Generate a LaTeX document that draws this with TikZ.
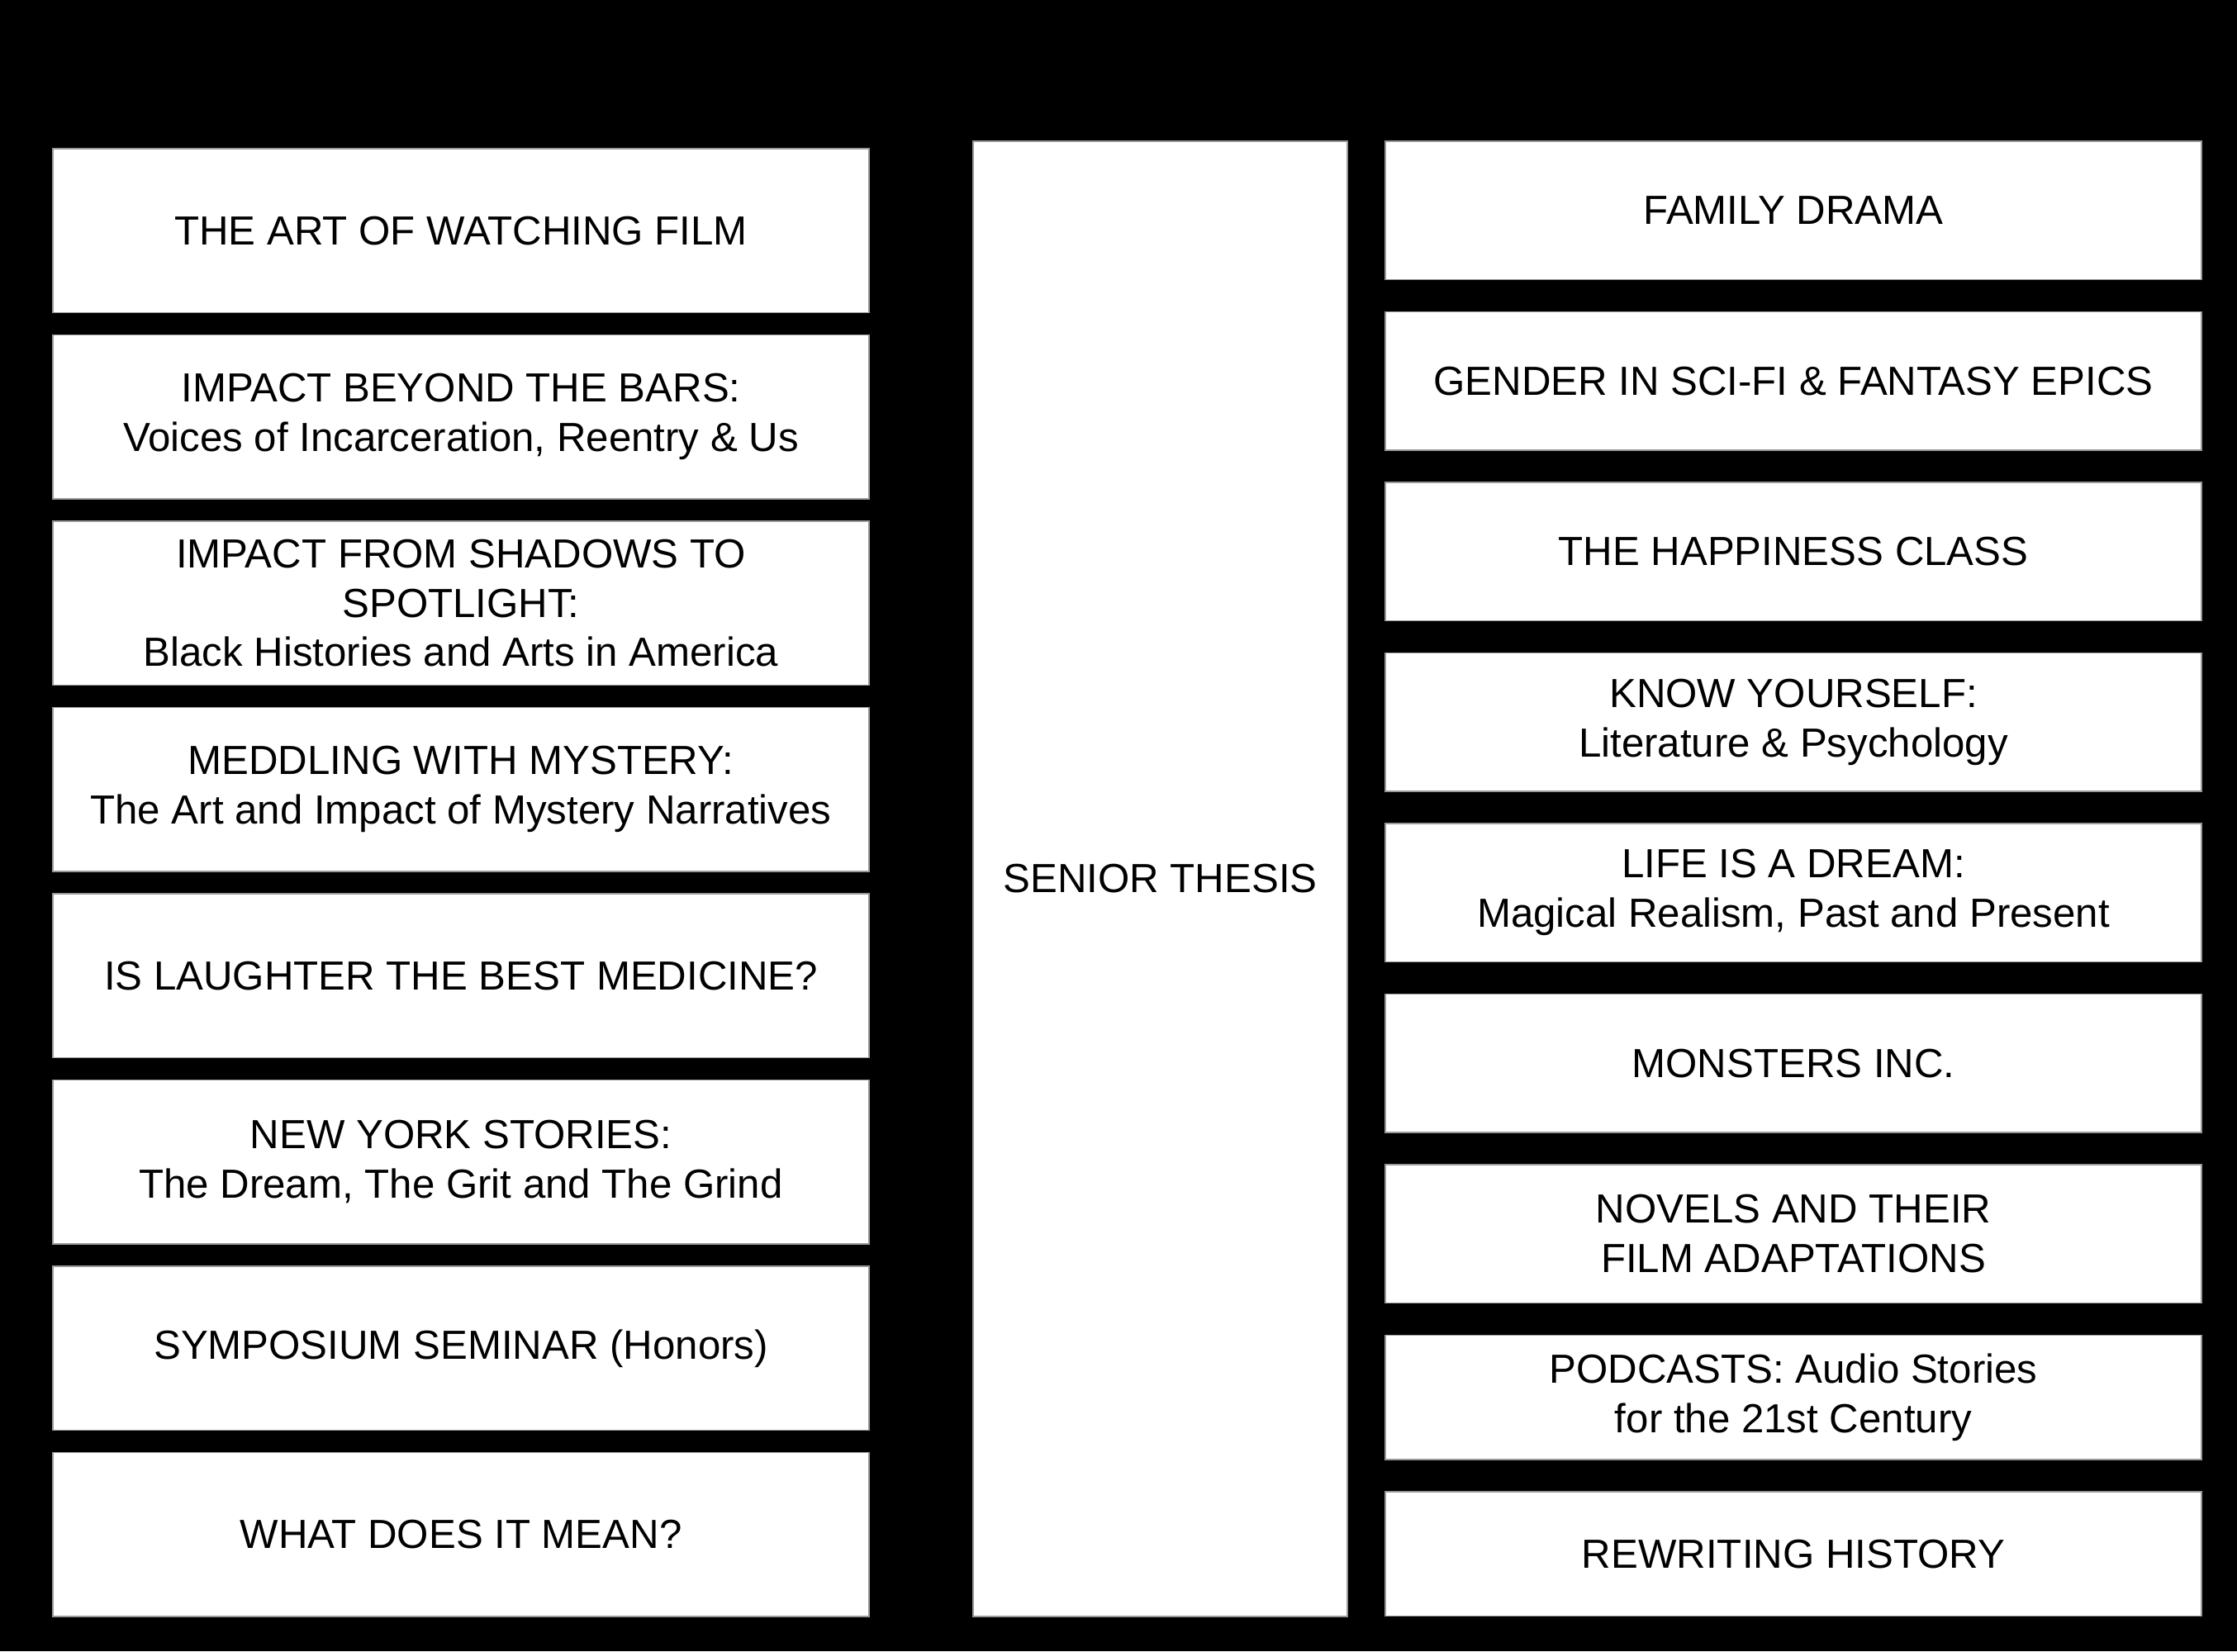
\documentclass[tikz,border=0pt]{standalone}
\usepackage{fontspec}
\setmainfont{Liberation Sans}
\usetikzlibrary{positioning}

\begin{document}
\begin{tikzpicture}[
  node distance=0.27cm,
  coursebox/.style={
    draw=black!40, line width=0.4pt, fill=white,
    minimum width=9.88cm, minimum height=#1,
    inner sep=0pt, outer sep=0pt, align=center,
    font=\fontsize{14pt}{17pt}\selectfont
  },
  coursebox/.default=1.985cm,
  thesisbox/.style={
    draw=black!40, line width=0.4pt, fill=white,
    minimum width=4.53cm, minimum height=17.86cm,
    inner sep=0pt, outer sep=0pt, align=center,
    font=\fontsize{14pt}{17pt}\selectfont
  },
]

% black page
\fill[black] (0,0) rectangle (27.08,-19.99);
\useasboundingbox (0,0) rectangle (27.08,-19.99);

% LEFT column
\node[coursebox, anchor=north west] (artbox) at (0.64,-1.80)
  {THE ART OF WATCHING FILM};
\node[coursebox, below=of artbox] (barsbox)
  {IMPACT BEYOND THE BARS:\\Voices of Incarceration, Reentry \& Us};
\node[coursebox, below=of barsbox] (shadowbox)
  {IMPACT FROM SHADOWS TO\\SPOTLIGHT:\\Black Histories and Arts in America};
\node[coursebox, below=of shadowbox] (mysterybox)
  {MEDDLING WITH MYSTERY:\\The Art and Impact of Mystery Narratives};
\node[coursebox, below=of mysterybox] (laughbox)
  {IS LAUGHTER THE BEST MEDICINE?};
\node[coursebox, below=of laughbox] (nybox)
  {NEW YORK STORIES:\\The Dream, The Grit and The Grind};
\node[coursebox, below=of nybox] (symposiumbox)
  {SYMPOSIUM SEMINAR (Honors)};
\node[coursebox, below=of symposiumbox] (meanbox)
  {WHAT DOES IT MEAN?};

% MIDDLE
\node[thesisbox, anchor=north west] (seniorbox) at (11.78,-1.71)
  {SENIOR THESIS};

% RIGHT column
\node[coursebox=1.675cm, anchor=north west] (familybox) at (16.77,-1.71)
  {FAMILY DRAMA};
\node[coursebox=1.675cm, below=0.39cm of familybox] (genderbox)
  {GENDER IN SCI-FI \& FANTASY EPICS};
\node[coursebox=1.675cm, below=0.39cm of genderbox] (happybox)
  {THE HAPPINESS CLASS};
\node[coursebox=1.675cm, below=0.39cm of happybox] (knowbox)
  {KNOW YOURSELF:\\Literature \& Psychology};
\node[coursebox=1.675cm, below=0.39cm of knowbox] (dreambox)
  {LIFE IS A DREAM:\\Magical Realism, Past and Present};
\node[coursebox=1.675cm, below=0.39cm of dreambox] (monsterbox)
  {MONSTERS INC.};
\node[coursebox=1.675cm, below=0.39cm of monsterbox] (novelbox)
  {NOVELS AND THEIR\\FILM ADAPTATIONS};
\node[coursebox=1.505cm, below=0.39cm of novelbox] (podcastbox)
  {PODCASTS: Audio Stories\\for the 21st Century};
\node[coursebox=1.505cm, below=0.39cm of podcastbox] (historybox)
  {REWRITING HISTORY};

\end{tikzpicture}
\end{document}
